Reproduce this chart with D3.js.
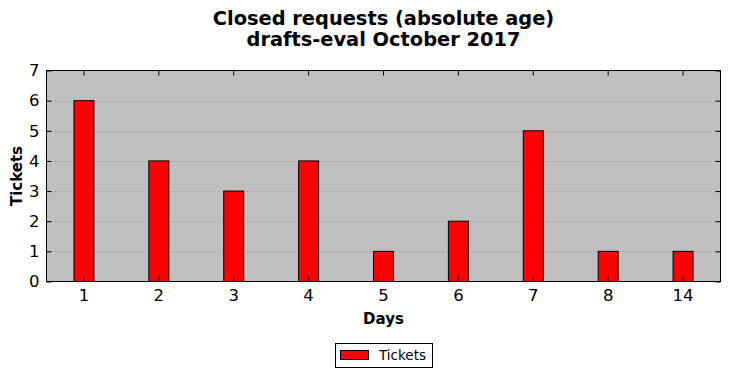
<!DOCTYPE html>
<html><head><meta charset="utf-8">
<script src="https://cdn.jsdelivr.net/npm/d3@7"></script>
<style>body{margin:0;background:#fff;}svg{display:block;}text{font-family:"DejaVu Sans",sans-serif;}</style>
</head><body>
<script>
const categories = ["1","2","3","4","5","6","7","8","14"];
const tickets = [6,4,3,4,1,2,5,1,1];
const yTicks = [0,1,2,3,4,5,6,7];
const titleLines = ["Closed requests (absolute age)","drafts-eval October 2017"];

const W=731,H=378;
const L=46.5,R=720.5,T=70.5,B=281.5;
const svg=d3.select("body").append("svg").attr("width",W).attr("height",H);

const x=d3.scaleBand().domain(categories).range([L,R]).paddingInner(0.7333).paddingOuter(0.3667);
const y=d3.scaleLinear().domain([0,7]).range([B,T]);

svg.append("rect").attr("x",L).attr("y",T).attr("width",R-L).attr("height",B-T).attr("fill","#bfbfbf");

// grid
svg.append("g").selectAll("line").data(yTicks.filter(d=>d>0&&d<7)).join("line")
 .attr("x1",L).attr("x2",R).attr("y1",d=>Math.round(y(d))+0.5).attr("y2",d=>Math.round(y(d))+0.5)
 .attr("stroke","#808080").attr("stroke-width",0.8).attr("stroke-dasharray","1,3");

// bars
svg.append("g").selectAll("rect").data(tickets).join("rect")
 .attr("x",(d,i)=>x(categories[i])).attr("width",x.bandwidth())
 .attr("y",d=>y(d)).attr("height",d=>y(0)-y(d))
 .attr("fill","#ff0000").attr("stroke","#000").attr("stroke-width",1);

// axes with inside ticks
const tl=5;
const gx=svg.append("g").attr("transform",`translate(0,${B})`)
 .call(d3.axisBottom(x).tickSizeInner(-tl).tickSizeOuter(0).tickPadding(8));
const gxt=svg.append("g").attr("transform",`translate(0,${T})`)
 .call(d3.axisTop(x).tickSizeInner(-tl).tickSizeOuter(0).tickFormat(""));
const gy=svg.append("g").attr("transform",`translate(${L},0)`)
 .call(d3.axisLeft(y).tickValues(yTicks).tickFormat(d3.format("d")).tickSizeInner(-tl).tickSizeOuter(0).tickPadding(7));
const gyr=svg.append("g").attr("transform",`translate(${R},0)`)
 .call(d3.axisRight(y).tickValues(yTicks).tickSizeInner(-tl).tickSizeOuter(0).tickFormat(""));
[gx,gxt,gy,gyr].forEach(g=>{g.select(".domain").remove();g.selectAll("line").attr("stroke","#000");
 g.selectAll("text").attr("font-size",16.5).attr("fill","#000").attr("font-family","DejaVu Sans, sans-serif");});
gx.selectAll("text").attr("dy","0.71em");

svg.append("rect").attr("x",L).attr("y",T).attr("width",R-L).attr("height",B-T).attr("fill","none").attr("stroke","#000").attr("stroke-width",1);

// titles
svg.append("g").selectAll("text").data(titleLines).join("text")
 .attr("x",(L+R)/2).attr("y",(d,i)=>25+i*21).attr("text-anchor","middle")
 .attr("font-size",19.4).attr("font-weight","bold").text(d=>d);

svg.append("text").attr("x",(L+R)/2).attr("y",324).attr("text-anchor","middle")
 .attr("font-size",15).attr("font-weight","bold").text("Days");
svg.append("text").attr("transform",`translate(22,${(T+B)/2}) rotate(-90)`).attr("text-anchor","middle")
 .attr("font-size",15).attr("font-weight","bold").text("Tickets");

// legend
const lg=svg.append("g");
lg.append("rect").attr("x",335.5).attr("y",343.5).attr("width",97).attr("height",24).attr("fill","#fff").attr("stroke","#000");
lg.append("rect").attr("x",340.5).attr("y",350.5).attr("width",28).attr("height",9).attr("fill","#ff0000").attr("stroke","#000");
lg.append("text").attr("x",379).attr("y",360).attr("font-size",13.5).text("Tickets");
</script>
</body></html>
